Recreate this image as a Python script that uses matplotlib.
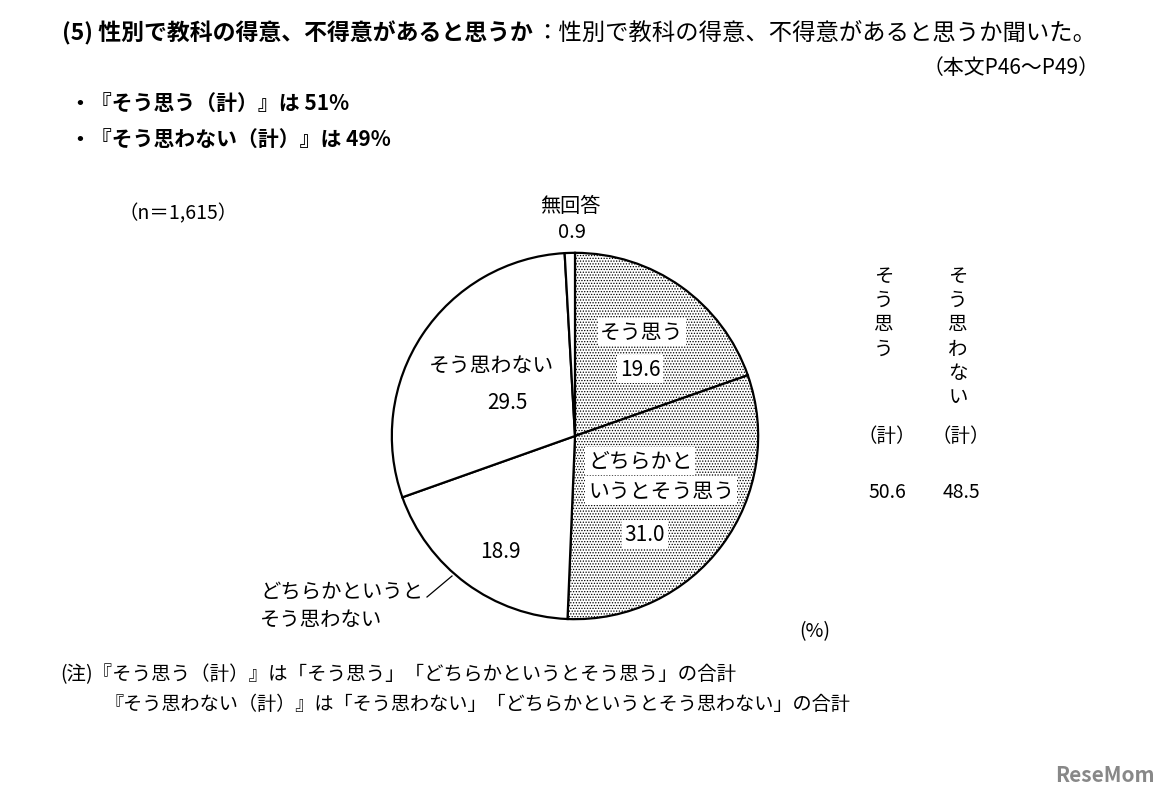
import matplotlib
matplotlib.use("Agg")
import matplotlib.pyplot as plt

plt.rcParams['font.family'] = ['Noto Sans CJK JP', 'DejaVu Sans']
plt.rcParams['hatch.color'] = '#555555'
plt.rcParams['hatch.linewidth'] = 0.6

# data
labels = ['そう思う', 'どちらかというとそう思う', 'どちらかというとそう思わない', 'そう思わない', '無回答']
values = [19.6, 31.0, 18.9, 29.5, 0.9]
dotted = [True, True, False, False, False]
total_labels = ['そう思う', 'そう思わない']
total_values = [50.6, 48.5]

W, H = 1165, 803
fig = plt.figure(figsize=(W / 100, H / 100), dpi=100)
fig.patch.set_facecolor('white')

def px(x, y):
    return x / W, 1 - y / H

def t(x, y, s, **kw):
    return fig.text(*px(x, y), s, **kw)

# pie, centre (575,437) r=185 px
cx, cy, r = 575, 437, 185
ax = fig.add_axes([(cx - r) / W, 1 - (cy + r) / H, 2 * r / W, 2 * r / H])
wedges, _ = ax.pie(values, startangle=90, counterclock=False,
                   colors=['white'] * len(values),
                   wedgeprops=dict(edgecolor='black', linewidth=1.6))
for w, d in zip(wedges, dotted):
    if d:
        w.set_hatch('......')
ax.set_xlim(-1.01, 1.01)
ax.set_ylim(-1.01, 1.01)
ax.set_aspect('equal')
ax.axis('off')

# header: bold part, then the plain part right after it
renderer = fig.canvas.get_renderer()
head = t(62, 33, '(5) 性別で教科の得意、不得意があると思うか', fontsize=16.5, fontweight='bold', va='center')
x_end = head.get_window_extent(renderer).x1
fig.text(x_end / W + 0.002, 1 - 33 / H, '：性別で教科の得意、不得意があると思うか聞いた。',
         fontsize=16.8, va='center')
t(1100, 68, '（本文P46～P49）', fontsize=15, va='center', ha='right')
t(70, 104, '・『そう思う（計）』は 51%', fontsize=15, fontweight='bold', va='center')
t(70, 140, '・『そう思わない（計）』は 49%', fontsize=15, fontweight='bold', va='center')
t(118, 214, '（n＝1,615）', fontsize=14, va='center')

# pie labels
box = dict(facecolor='white', edgecolor='none', pad=2)
fs = 15
t(570, 206, labels[4], fontsize=14.5, ha='center', va='center')
t(572, 233, f'{values[4]}', fontsize=14.5, ha='center', va='center')
t(642, 333, labels[0], fontsize=fs, ha='center', va='center', bbox=box)
t(640, 370, f'{values[0]}', fontsize=fs, ha='center', va='center', bbox=box)
t(588, 462, 'どちらかと', fontsize=fs, ha='left', va='center', bbox=box)
t(588, 492, 'いうとそう思う', fontsize=fs, ha='left', va='center', bbox=box)
t(645, 535, f'{values[1]}', fontsize=fs, ha='center', va='center', bbox=box)
t(491, 366, labels[3], fontsize=fs, ha='center', va='center')
t(507, 403, f'{values[3]}', fontsize=fs, ha='center', va='center')
t(500, 552, f'{values[2]}', fontsize=fs, ha='center', va='center')
t(260, 592, 'どちらかというと', fontsize=14.7, ha='left', va='center')
t(260, 620, 'そう思わない', fontsize=14.7, ha='left', va='center')
fig.add_artist(plt.Line2D([427 / W, 452 / W], [1 - 598 / H, 1 - 577 / H],
                          color='black', linewidth=0.9))

# totals (vertical)
for x, lab, v in zip([884, 958], total_labels, total_values):
    t(x, 266, '\n'.join(lab), fontsize=14, ha='center', va='top', linespacing=1.2)
    t(x + 3, 437, '（計）', fontsize=14, ha='center', va='center')
    t(x + 3, 493, f'{v}', fontsize=14, ha='center', va='center')

t(815, 632, '(%)', fontsize=14, ha='center', va='center')

# notes
t(60, 675, '(注)『そう思う（計）』は「そう思う」「どちらかというとそう思う」の合計', fontsize=14, va='center')
t(105, 705, '『そう思わない（計）』は「そう思わない」「どちらかというとそう思わない」の合計', fontsize=13.8, va='center')

t(1105, 776, 'ReseMom', fontsize=15, fontweight='bold', color='#888888', ha='center', va='center')

fig.savefig('out.png', dpi=100)
